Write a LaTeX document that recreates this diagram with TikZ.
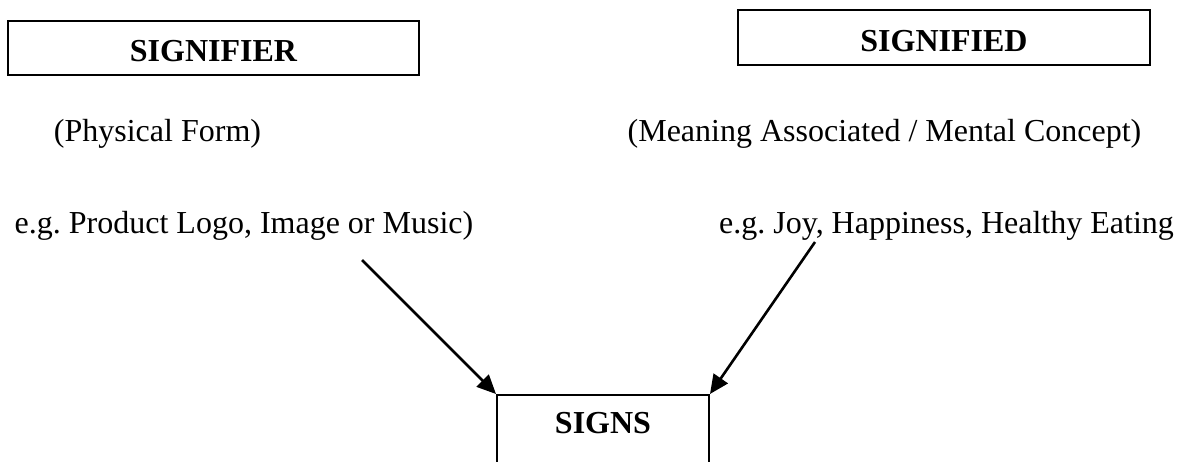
\documentclass[tikz,border=0pt]{standalone}
\usepackage{fontspec}
\setmainfont{Liberation Serif}
\usetikzlibrary{arrows.meta}
\begin{document}
\frenchspacing
\begin{tikzpicture}[x=1pt,y=-1pt,
  every node/.style={font=\fontsize{32}{38}\selectfont, inner sep=0pt},
  boxlabel/.style={font=\fontsize{32}{38}\selectfont\bfseries, anchor=base},
  plain/.style={anchor=base},
  frame/.style={draw, line width=2pt},
  conn/.style={line width=2.6pt, -{Triangle[length=19pt,width=17pt]}}]
\useasboundingbox (0,0) rectangle (1184,461);
% boxes
\draw[frame] (8,21) rectangle (419,75);
\node[boxlabel] (signifier) at (213.5,61.5) {SIGNIFIER};
\draw[frame] (738,10) rectangle (1150,65);
\node[boxlabel] (signified) at (944,51.5) {SIGNIFIED};
% signs box (bottom cut by page)
\node[frame, minimum width=212pt, minimum height=120pt, anchor=north] (signs) at (603,394) {};
\node[boxlabel] (signstext) at (603,433) {SIGNS};
% texts
\node[plain] (phys) at (157.5,141.5) {(Physical Form)};
\node[plain] (mean) at (884.5,141.5) {(Meaning Associated / Mental Concept)};
\node[plain] (eg1) at (244,233) {e.g. Product Logo, Image or Music)};
\node[plain] (eg2) at (946.5,233) {e.g. Joy, Happiness, Healthy Eating};
% connectors
\coordinate (a1) at (362,260);
\coordinate (a2) at (815,242);
\draw[conn] (a1) -- (signs.north west);
\draw[conn] (a2) -- (signs.north east);
\end{tikzpicture}
\end{document}
